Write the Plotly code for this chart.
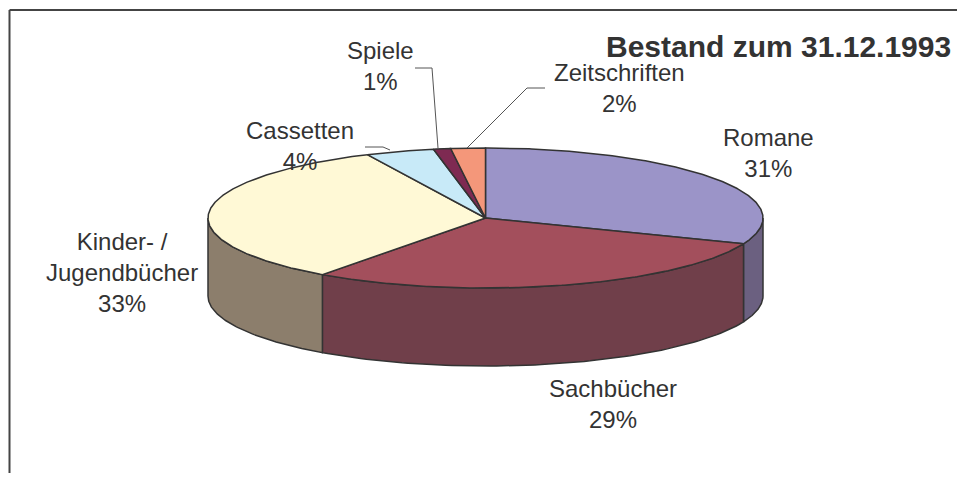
import numpy as np
import plotly.graph_objects as go

# ---- data ----
categories = ["Romane", "Sachbücher", "Kinder- /<br>Jugendbücher", "Cassetten", "Spiele", "Zeitschriften"]
values = [31, 29, 33, 4, 1, 2]
top_colors = ["#9B94C8", "#A34F5C", "#FFF9D6", "#C8EAF8", "#7E2A52", "#F4977A"]
side_colors = ["#6B6080", "#703F4A", "#8C7E6C", "#8AA3AE", "#581D39", "#AA6955"]
title_text = "Bestand zum 31.12.1993"

# ---- geometry (page pixel space; the page body has an 8px margin) ----
W, H = 969, 485
OFF = 8
FW, FH = W - 2 * OFF - 4, H - 2 * OFF - 4
cx, cy, rx, ry, depth = 485.5, 218, 277.5, 70, 78
line_col = "#333333"

total = float(sum(values))
bounds = np.concatenate([[0], np.cumsum(values)]) / total * 360.0


def pt(tdeg, dy=0.0):
    t = np.radians(tdeg)
    return cx + rx * np.sin(t), cy - ry * np.cos(t) + dy


fig = go.Figure()

# side walls (front half only: 90..270 deg)
for i, v in enumerate(values):
    a0, a1 = bounds[i], bounds[i + 1]
    s0, s1 = max(a0, 90), min(a1, 270)
    if s1 <= s0:
        continue
    ts = np.linspace(s0, s1, 80)
    xt, yt = pt(ts)
    xb, yb = pt(ts[::-1], depth)
    xs = np.concatenate([xt, xb, [xt[0]]])
    ys = np.concatenate([yt, yb, [yt[0]]])
    fig.add_trace(go.Scatter(x=xs, y=ys, mode="lines", fill="toself",
                             fillcolor=side_colors[i],
                             line=dict(color=line_col, width=1.5),
                             hoverinfo="skip", showlegend=False))

# top faces
for i, v in enumerate(values):
    a0, a1 = bounds[i], bounds[i + 1]
    ts = np.linspace(a0, a1, max(4, int((a1 - a0) * 2)))
    xa, ya = pt(ts)
    xs = np.concatenate([[cx], xa, [cx]])
    ys = np.concatenate([[cy], ya, [cy]])
    fig.add_trace(go.Scatter(x=xs, y=ys, mode="lines", fill="toself",
                             fillcolor=top_colors[i],
                             line=dict(color=line_col, width=1.5),
                             hoverinfo="skip", showlegend=False))

# labels (text positions)
label_pos = [(768, 153), (613, 404), (122, 272), (300, 146), (380, 66), (619, 88)]
font = dict(family="Liberation Sans, Arial, sans-serif", size=24, color="#333333")
for (lx, ly), name, v in zip(label_pos, categories, values):
    fig.add_annotation(x=lx, y=ly, xref="x", yref="y", text=f"{name}<br>{v}%",
                       showarrow=False, font=font, align="center",
                       xanchor="center", yanchor="middle")

# leader lines
leaders = [
    [(365, 147), (383, 147), (390, 150)],          # Cassetten
    [(415, 68), (432, 68), (438, 148)],            # Spiele
    [(545, 88), (527, 88), (467, 148)],            # Zeitschriften
]
for seg in leaders:
    path = "M " + " L ".join(f"{x},{y}" for x, y in seg)
    fig.add_shape(type="path", path=path, xref="x", yref="y",
                  line=dict(color="#555555", width=1))

# title
fig.add_annotation(x=778, y=46, xref="x", yref="y", text=f"<b>{title_text}</b>",
                   showarrow=False, xanchor="center", yanchor="middle",
                   font=dict(family="Liberation Sans, Arial, sans-serif", size=30, color="#333333"))

# chart border (right/bottom edges lie outside the visible canvas)
fig.add_shape(type="line", x0=9.5, y0=10, x1=W + 20, y1=10, xref="x", yref="y",
              line=dict(color="#444444", width=2))
fig.add_shape(type="line", x0=9.5, y0=10, x1=9.5, y1=H + 20, xref="x", yref="y",
              line=dict(color="#444444", width=2))

fig.update_layout(
    width=FW, height=FH, margin=dict(l=0, r=0, t=0, b=0),
    paper_bgcolor="white", plot_bgcolor="white",
    xaxis=dict(range=[OFF, OFF + FW], visible=False, fixedrange=True),
    yaxis=dict(range=[OFF + FH, OFF], visible=False, fixedrange=True),
)
fig.write_html("out.html")
